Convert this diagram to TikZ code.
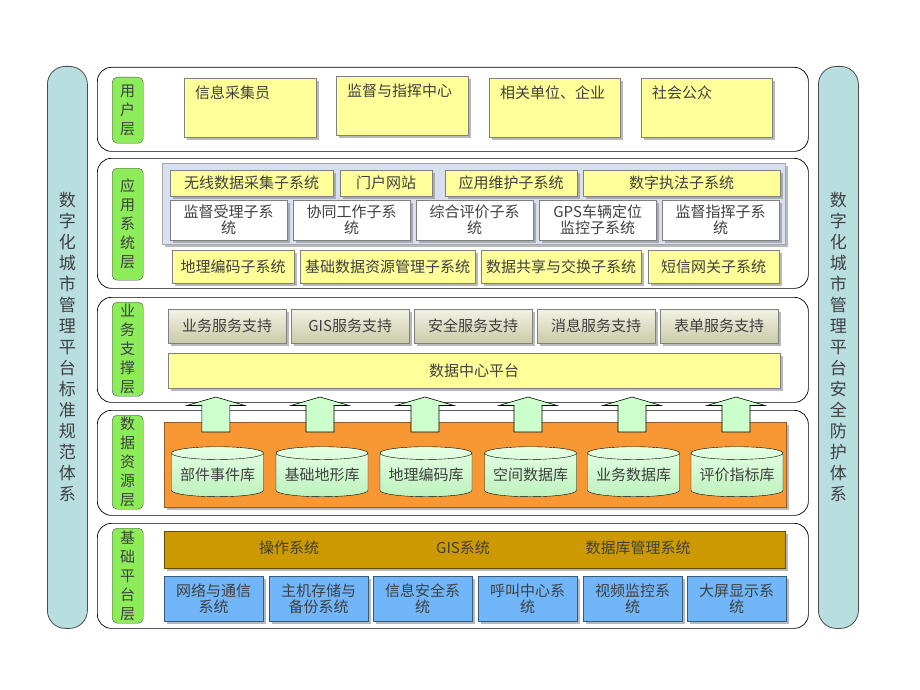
\documentclass[tikz,border=0pt]{standalone}
\usepackage{fontspec}
\setmainfont{Noto Sans CJK SC}
\usetikzlibrary{shadows,shapes.geometric}
\definecolor{sidecyan}{RGB}{184,222,224}
\definecolor{taggreen}{RGB}{140,236,90}
\definecolor{boxyellow}{RGB}{255,255,153}
\definecolor{panelblue}{RGB}{214,224,240}
\definecolor{svctop}{RGB}{242,242,228}
\definecolor{svcbot}{RGB}{202,202,168}
\definecolor{arrowgreen}{RGB}{204,255,204}
\definecolor{dbtop}{RGB}{228,255,228}
\definecolor{dbbot}{RGB}{190,242,190}
\definecolor{dborange}{RGB}{247,152,52}
\definecolor{osgold}{RGB}{204,153,0}
\definecolor{hwblue}{RGB}{112,182,248}

\begin{document}
\begin{tikzpicture}[x=1pt,y=-1pt,
  every node/.style={text=black!75, font=\fontsize{15}{16}\selectfont, inner sep=0pt},
  shadowed/.style={drop shadow={shadow xshift=2.5pt, shadow yshift=-2.5pt, fill=black!50, opacity=0.55}},
  sidebar/.style={draw=black!70, fill=sidecyan, rounded corners=18pt, line width=0.8pt, anchor=north west,
    minimum width=40pt, minimum height=562pt, align=center, font=\fontsize{17}{21}\selectfont},
  layerframe/.style={draw=black, fill=white, rounded corners=14pt, line width=0.7pt, anchor=north west, minimum width=711pt},
  layertag/.style={draw=black!70, fill=taggreen, rounded corners=5pt, anchor=north west, minimum width=31pt,
    align=center, font=\fontsize{15}{19}\selectfont},
  ybox/.style={shadowed, draw=black!50, fill=boxyellow, anchor=north west},
  wbox/.style={shadowed, draw=black!50, fill=white, anchor=north west, align=center},
  svcbox/.style={shadowed, draw=black!50, top color=svctop, bottom color=svcbot, anchor=north west},
  panel/.style={shadowed, draw=black!35, fill=panelblue, anchor=north west},
  dbpanel/.style={shadowed, draw=dborange!60!black, fill=dborange, anchor=north west},
  dbcyl/.style={cylinder, shape border rotate=90, aspect=0.17, draw=black, top color=dbtop, bottom color=dbbot,
    minimum width=92pt, minimum height=50pt},
  osbar/.style={shadowed, draw=osgold!50!black, fill=osgold, anchor=north west},
  hwbox/.style={shadowed, draw=hwblue!50!black, fill=hwblue, anchor=north west, align=center},
  blockarrow/.style={draw=black, fill=arrowgreen, line width=0.6pt}]
\useasboundingbox (0,0) rectangle (920,690);

% side columns
\node[sidebar] (stdside) at (47,66) {数\\字\\化\\城\\市\\管\\理\\平\\台\\标\\准\\规\\范\\体\\系};
\node[sidebar] (secside) at (818,66) {数\\字\\化\\城\\市\\管\\理\\平\\台\\安\\全\\防\\护\\体\\系};

% layer frames
\node[layerframe, minimum height=84pt] (userframe) at (97,67) {};
\node[layerframe, minimum height=130pt] (appframe) at (97,158) {};
\node[layerframe, minimum height=105pt] (svcframe) at (97,297) {};
\node[layerframe, minimum height=105pt] (dataframe) at (97,410) {};
\node[layerframe, minimum height=105pt] (baseframe) at (97,523) {};

% layer tags
\node[layertag, minimum height=66pt] (usertag) at (112,77) {用\\户\\层};
\node[layertag, minimum height=112pt] (apptag) at (112,168) {应\\用\\系\\统\\层};
\node[layertag, minimum height=94pt] (svctag) at (112,302) {业\\务\\支\\撑\\层};
\node[layertag, minimum height=94pt] (datatag) at (112,415) {数\\据\\资\\源\\层};
\node[layertag, minimum height=95pt] (basetag) at (112,528) {基\\础\\平\\台\\层};

% user layer
\foreach \x/\y/\w/\t [count=\i] in {184/78/132/信息采集员, 336/76/132/监督与指挥中心, 489/78/131/相关单位、企业, 641/78/131/社会公众}
  \node[ybox, minimum width=\w pt, minimum height=59pt,
    label={[anchor=north west, xshift=11pt, yshift=-8pt]north west:\t}] (user\i) at (\x,\y) {};

% application layer
\node[panel, minimum width=623pt, minimum height=81pt] (apppanel) at (162,163) {};
\foreach \x/\w/\t [count=\i] in {170/163/无线数据采集子系统, 340/92/门户网站, 445/132/应用维护子系统, 583/197/数字执法子系统}
  \node[ybox, minimum width=\w pt, minimum height=26pt] (apptop\i) at (\x,170) {\t};
\foreach \x/\t [count=\i] in {170/监督受理子系\\统, 293/协同工作子系\\统, 416/综合评价子系\\统, 539/GPS车辆定位\\监控子系统, 662/监督指挥子系\\统}
  \node[wbox, minimum width=117pt, minimum height=40pt] (appmid\i) at (\x,200) {\t};
\foreach \x/\w/\t [count=\i] in {172/122/地理编码子系统, 300/175/基础数据资源管理子系统, 481/160/数据共享与交换子系统, 648/131/短信网关子系统}
  \node[ybox, minimum width=\w pt, minimum height=33pt] (appbot\i) at (\x,250) {\t};

% service layer
\foreach \x/\t [count=\i] in {168/业务服务支持, 291/GIS服务支持, 414/安全服务支持, 537/消息服务支持, 660/表单服务支持}
  \node[svcbox, minimum width=118pt, minimum height=34pt] (svc\i) at (\x,309) {\t};
\node[ybox, minimum width=612pt, minimum height=35pt] (datacenter) at (168,353) {数据中心平台};

% data layer
\node[dbpanel, minimum width=622pt, minimum height=85pt] (dbpanel) at (164,422) {};
\foreach \x/\t [count=\i] in {217.5/部件事件库, 322/基础地形库, 426/地理编码库, 530.5/空间数据库, 633.5/业务数据库, 737/评价指标库}
  \node[dbcyl] (db\i) at (\x,475) {\t};
\foreach \x [count=\i] in {215.8, 320, 425, 528, 632, 736} {
  \coordinate (up\i) at (\x,397);
  \draw[blockarrow] (up\i) -- ++(29,8.5) -- ++(-15,0) -- ++(0,26.5) -- ++(-28,0) -- ++(0,-26.5) -- ++(-15,0) -- cycle;
}

% base layer
\node[osbar, minimum width=621pt, minimum height=37pt] (osbar) at (164,531) {};
\node (os1) at (289,548) {操作系统};
\node (os2) at (463,548) {GIS系统};
\node (os3) at (638,548) {数据库管理系统};
\foreach \x/\t [count=\i] in {164/网络与通信\\系统, 269/主机存储与\\备份系统, 373/信息安全系\\统, 478/呼叫中心系\\统, 583/视频监控系\\统, 687/大屏显示系\\统}
  \node[hwbox, minimum width=99pt, minimum height=45pt] (hw\i) at (\x,576) {\t};
\end{tikzpicture}
\end{document}
